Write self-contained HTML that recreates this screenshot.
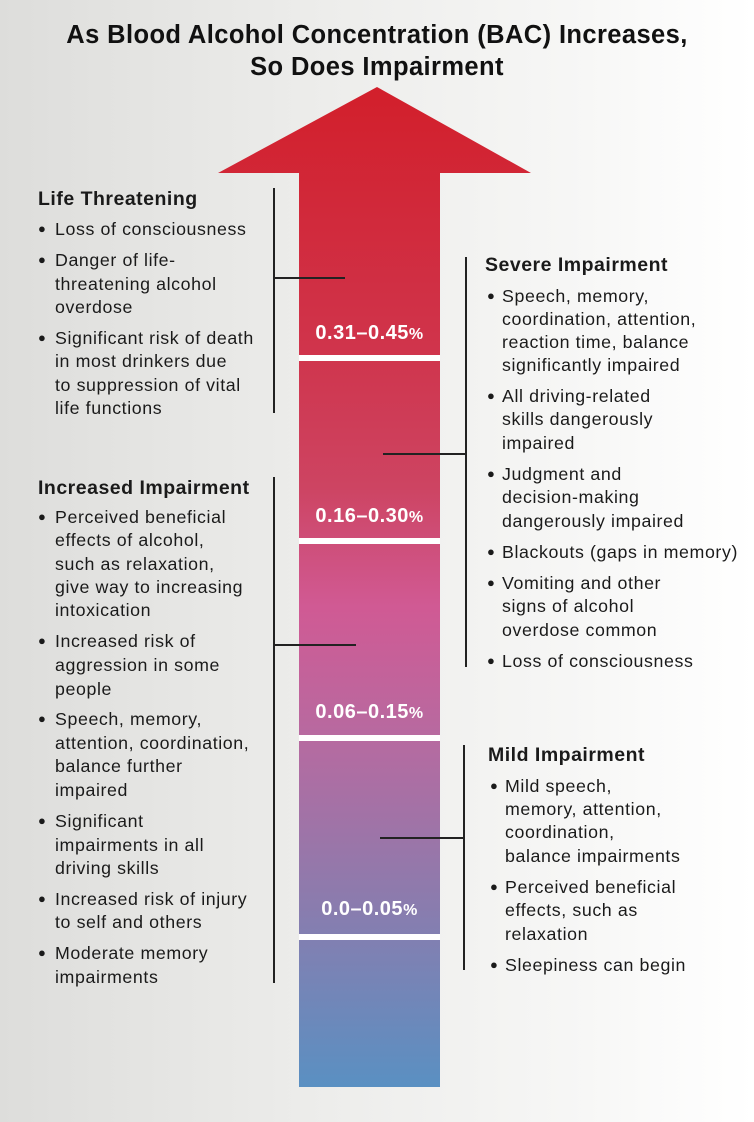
<!DOCTYPE html>
<html><head><meta charset="utf-8">
<style>
html,body{margin:0;padding:0}
body{width:754px;height:1122px;position:relative;overflow:hidden;background:linear-gradient(90deg,#dddddb 0%,#ececea 40%,#f6f6f5 75%,#ffffff 100%);font-family:"Liberation Sans",sans-serif;color:#1a1a1a}
.t{position:absolute;left:0;width:754px;text-align:center;font-weight:bold;font-size:25.5px;line-height:32px;color:#111;letter-spacing:0.4px}
.l{position:absolute;font-size:17.8px;line-height:22px;white-space:nowrap;letter-spacing:0.6px}
.h{position:absolute;font-size:19.5px;line-height:24px;font-weight:bold;white-space:nowrap;letter-spacing:0.5px}
.b{position:absolute;font-size:13px;line-height:22px}
.v{position:absolute;background:#222;width:1.5px}
.hz{position:absolute;background:#222;height:1.5px}
.lab{position:absolute;left:299px;width:141px;text-align:center;color:#fff;font-weight:bold;font-size:20px;line-height:26px;letter-spacing:0.5px}
.lab small{font-size:16px}
.sep{position:absolute;left:299px;width:141px;height:6px;background:#fff}
</style></head><body>
<div class="t" style="top:19px">As Blood Alcohol Concentration (BAC) Increases,<br>So Does Impairment</div>

<svg style="position:absolute;left:0;top:0" width="754" height="1122">
<defs><linearGradient id="g" x1="0" y1="87" x2="0" y2="1087" gradientUnits="userSpaceOnUse">
<stop offset="0" stop-color="#d21f2b"/><stop offset="0.25" stop-color="#d0334a"/>
<stop offset="0.4" stop-color="#cd4462"/><stop offset="0.52" stop-color="#d05a94"/>
<stop offset="0.65" stop-color="#b76aa0"/><stop offset="0.8" stop-color="#8f7aac"/>
<stop offset="1" stop-color="#5a90c2"/></linearGradient></defs>
<path d="M218 173 L377 87 L531 173 L440 173 L440 1087 L299 1087 L299 173 Z" fill="url(#g)"/>
</svg>
<div class="sep" style="top:355px"></div>
<div class="sep" style="top:538px"></div>
<div class="sep" style="top:735px"></div>
<div class="sep" style="top:934px"></div>
<div class="lab" style="top:320px">0.31–0.45<small>%</small></div>
<div class="lab" style="top:503px">0.16–0.30<small>%</small></div>
<div class="lab" style="top:699px">0.06–0.15<small>%</small></div>
<div class="lab" style="top:896px">0.0–0.05<small>%</small></div>

<div class="v" style="left:273px;top:188px;height:225px"></div>
<div class="hz" style="left:273px;top:277px;width:72px"></div>
<div class="v" style="left:273px;top:477px;height:506px"></div>
<div class="hz" style="left:273px;top:644px;width:83px"></div>
<div class="v" style="left:465px;top:257px;height:410px"></div>
<div class="hz" style="left:383px;top:453px;width:83px"></div>
<div class="v" style="left:463px;top:745px;height:225px"></div>
<div class="hz" style="left:380px;top:837px;width:84px"></div>

<div id="txt"></div>
<script>
const blocks=[
 {x:38,bx:38,tx:55,h:['Life Threatening',199],items:[[['Loss of consciousness',229]],[['Danger of life-',260],['threatening alcohol',284],['overdose',307]],[['Significant risk of death',338],['in most drinkers due',361],['to suppression of vital',385],['life functions',408]]]},
 {x:38,bx:38,tx:55,h:['Increased Impairment',488],items:[[['Perceived beneficial',517],['effects of alcohol,',540],['such as relaxation,',564],['give way to increasing',587],['intoxication',610]],[['Increased risk of',641],['aggression in some',665],['people',689]],[['Speech, memory,',719],['attention, coordination,',743],['balance further',766],['impaired',790]],[['Significant',821],['impairments in all',845],['driving skills',868]],[['Increased risk of injury',899],['to self and others',922]],[['Moderate memory',953],['impairments',977]]]},
 {x:485,bx:487,tx:502,h:['Severe Impairment',265],items:[[['Speech, memory,',296],['coordination, attention,',319],['reaction time, balance',342],['significantly impaired',365]],[['All driving-related',396],['skills dangerously',419],['impaired',443]],[['Judgment and',474],['decision-making',497],['dangerously impaired',521]],[['Blackouts (gaps in memory)',552]],[['Vomiting and other',583],['signs of alcohol',606],['overdose common',630]],[['Loss of consciousness',661]]]},
 {x:488,bx:490,tx:505,h:['Mild Impairment',755],items:[[['Mild speech,',786],['memory, attention,',809],['coordination,',832],['balance impairments',856]],[['Perceived beneficial',887],['effects, such as',910],['relaxation',934]],[['Sleepiness can begin',965]]]}
];
const root=document.getElementById('txt');
blocks.forEach(b=>{
 const h=document.createElement('div');h.className='h';
 
 
 h.style.left=b.x+'px';h.style.top=(b.h[1]-12)+'px';h.textContent=b.h[0];root.appendChild(h);
 b.items.forEach(it=>{
  const d=document.createElement('div');d.className='b';
  
  
  d.style.left=b.bx+'px';d.style.top=(it[0][1]-11)+'px';d.textContent='●';root.appendChild(d);
  it.forEach(ln=>{
   const e=document.createElement('div');e.className='l';
   
   
   e.style.left=b.tx+'px';e.style.top=(ln[1]-11)+'px';e.textContent=ln[0];root.appendChild(e);
  });
 });
});
</script>
</body></html>
